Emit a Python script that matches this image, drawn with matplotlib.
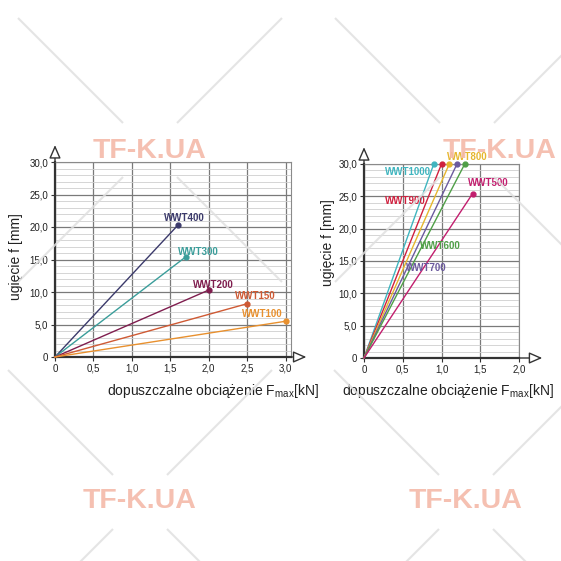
import numpy as np
import matplotlib.pyplot as plt

plt.rcParams['font.family'] = ['Liberation Sans', 'DejaVu Sans']

# left chart: load [kN] -> deflection [mm]
left_names = ["WWT400", "WWT300", "WWT200", "WWT150", "WWT100"]
left_force = [1.6, 1.7, 2.0, 2.5, 3.0]
left_defl = [20.3, 15.4, 10.3, 8.2, 5.5]
left_colors = ["#3b3a6b", "#3a9d9a", "#7f1d4e", "#cf5a34", "#e8902e"]
left_label_pos = [(1.68, 21.4), (1.87, 16.2), (2.06, 11.1), (2.61, 9.4), (2.70, 6.6)]

# right chart
right_names = ["WWT1000", "WWT900", "WWT800", "WWT700", "WWT600", "WWT500"]
right_force = [0.9, 1.0, 1.1, 1.2, 1.3, 1.4]
right_defl = [30.0, 30.0, 30.0, 30.0, 30.0, 25.4]
right_colors = ["#3fb5bf", "#d0203e", "#e6b62e", "#6b5a9e", "#4f9f47", "#c21e6e"]
right_label_pos = [(0.57, 28.8), (0.54, 24.3), (1.33, 31.1), (0.81, 13.9), (0.99, 17.3), (1.60, 27.1)]

W = 561.0
fig = plt.figure(figsize=(5.61, 5.61), dpi=100)


def px_axes(x0, ytop, w, h):
    return fig.add_axes([x0 / W, (W - ytop - h) / W, w / W, h / W])


def fmt(v):
    return "0" if v == 0 else f"{v:.1f}".replace(".", ",")


def setup(ax, xmax, xticks, xtip):
    ax.set_xlim(0, xmax)
    ax.set_ylim(0, 30)
    ax.set_xticks(xticks)
    ax.set_xticklabels([fmt(v) for v in xticks])
    yt = [0, 5, 10, 15, 20, 25, 30]
    ax.set_yticks(yt)
    ax.set_yticklabels([fmt(v) for v in yt])
    ax.set_yticks(np.arange(0, 31, 1), minor=True)
    ax.grid(which='major', color='#7a7a7a', lw=0.9)
    ax.grid(which='minor', axis='y', color='#cfcfcf', lw=0.6)
    ax.set_axisbelow(True)
    for s in ['top', 'right']:
        ax.spines[s].set_color('#8a8a8a')
        ax.spines[s].set_linewidth(0.8)
    for s in ['left', 'bottom']:
        ax.spines[s].set_color('#333333')
        ax.spines[s].set_linewidth(1.6)
    ax.tick_params(which='major', labelsize=7, length=3, color='#333333', pad=2, labelcolor='#222222')
    ax.tick_params(which='minor', length=0)
    ap = dict(arrowstyle='-|>,head_length=0.8,head_width=0.35', fc='white', ec='#333333', lw=1.0,
              shrinkA=0, shrinkB=0)
    ax.annotate('', xy=(0, 32.6), xytext=(0, 29.9), arrowprops=ap, annotation_clip=False)
    ax.annotate('', xy=(xtip, 0), xytext=(xmax * 0.98, 0), arrowprops=ap, annotation_clip=False)


def draw(ax, names, force, defl, colors, lpos):
    for n, f, d, c, (lx, ly) in zip(names, force, defl, colors, lpos):
        ax.plot([0, f], [0, d], color=c, lw=1.0, clip_on=False, zorder=3)
        ax.plot([f], [d], 'o', color=c, ms=3.5, clip_on=False, zorder=4)
        ax.text(lx, ly, n, color=c, fontsize=7, fontweight='bold', ha='center', va='center', zorder=5)


ax1 = px_axes(55, 162, 236, 195)
setup(ax1, 3.07, [0, 0.5, 1.0, 1.5, 2.0, 2.5, 3.0], 3.27)
draw(ax1, left_names, left_force, left_defl, left_colors, left_label_pos)

ax2 = px_axes(364, 164, 155, 194)
setup(ax2, 2.0, [0, 0.5, 1.0, 1.5, 2.0], 2.30)
draw(ax2, right_names, right_force, right_defl, right_colors, right_label_pos)

xlabel = 'dopuszczalne obciążenie F$_{\\mathregular{max}}$[kN]'
fig.text(213 / W, 1 - 391 / W, xlabel, fontsize=10, ha='center', va='center', color='#222222')
fig.text(448 / W, 1 - 391 / W, xlabel, fontsize=10, ha='center', va='center', color='#222222')
fig.text(16 / W, 1 - 257 / W, 'ugięcie f [mm]', fontsize=10, rotation=90, ha='center', va='center', color='#222222')
fig.text(328 / W, 1 - 243 / W, 'ugięcie f [mm]', fontsize=10, rotation=90, ha='center', va='center', color='#222222')

# watermark overlay
wm = fig.add_axes([0, 0, 1, 1], zorder=10)
wm.set_xlim(0, W)
wm.set_ylim(W, 0)
wm.axis('off')
wm.patch.set_alpha(0)
for cx, cy in [(150, 150), (467, 150), (140, 502), (466, 502)]:
    for sx in (-1, 1):
        for sy in (-1, 1):
            wm.plot([cx + sx * 27, cx + sx * 132], [cy + sy * 27, cy + sy * 132],
                    color='#e0e0e0', lw=1.5, alpha=0.85, solid_capstyle='butt')
for tx, ty in [(150, 151), (500, 151), (140, 501), (466, 501)]:
    wm.text(tx, ty, 'TF-K.UA', fontsize=20.5, fontweight='bold', color='#f4b9a9',
            ha='center', va='center', alpha=0.9)

fig.savefig('out.png', dpi=100, facecolor='white')
